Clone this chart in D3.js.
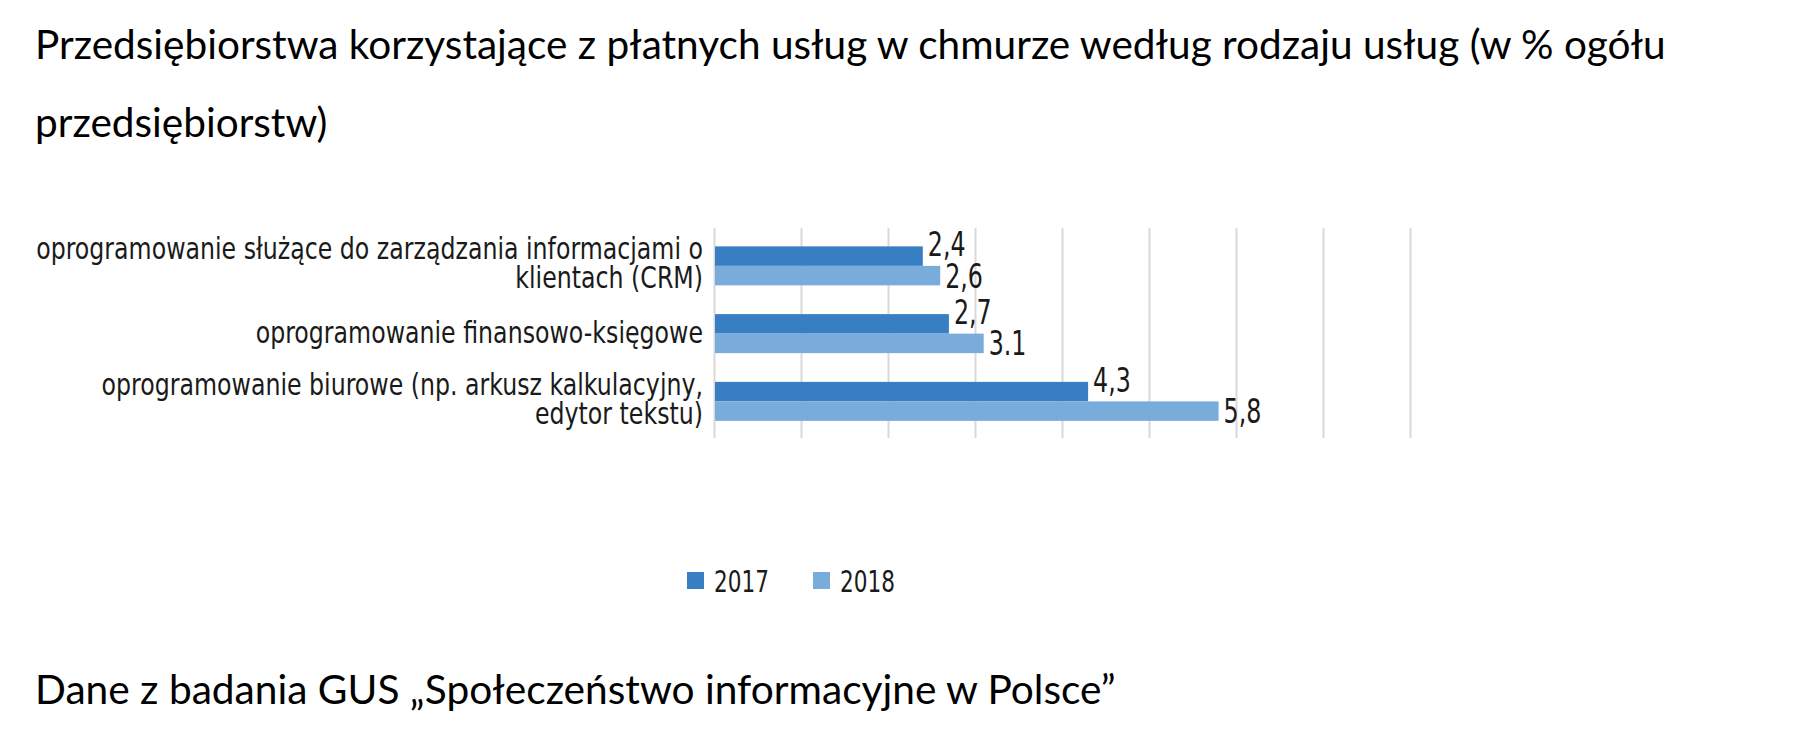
<!DOCTYPE html>
<html>
<head>
<meta charset="utf-8">
<script src="https://cdn.jsdelivr.net/npm/d3@7"></script>
<style>
body{margin:0;background:#fff;}
</style>
</head>
<body>
<div id="chart"></div>
<script>
// data
var titleLines = ["Przedsiębiorstwa korzystające z płatnych usług w chmurze według rodzaju usług (w % ogółu", "przedsiębiorstw)"];
var footnote = "Dane z badania GUS „Społeczeństwo informacyjne w Polsce”";
var categories = [
  ["oprogramowanie służące do zarządzania informacjami o", "klientach (CRM)"],
  ["oprogramowanie finansowo-księgowe"],
  ["oprogramowanie biurowe (np. arkusz kalkulacyjny,", "edytor tekstu)"]
];
var seriesNames = ["2017", "2018"];
var values2017 = [2.4, 2.7, 4.3];
var values2018 = [2.6, 3.1, 5.8];
var labels2017 = ["2,4", "2,7", "4,3"];
var labels2018 = ["2,6", "3.1", "5,8"];
var xTicks = [0, 1, 2, 3, 4, 5, 6, 7, 8];
var colors = ["#377ec3", "#7aacdb"];

var W = 1800, H = 740;
var narrow = "'Liberation Sans Narrow', 'DejaVu Sans Condensed', 'Arial Narrow', sans-serif";
var titleFont = "Lato, Carlito, Calibri, sans-serif";
var squeeze = 0.8; // the original uses a condensed face, narrower than what we have

var svg = d3.select("#chart").append("svg")
    .attr("width", W)
    .attr("height", H)
    .style("display", "block");

svg.append("rect").attr("width", W).attr("height", H).attr("fill", "#fff");

// shrink/grow a text element's font so it spans the width seen in the picture
function fit(t, target) {
  var w = t.node().getComputedTextLength();
  var fs = parseFloat(t.attr("font-size"));
  t.attr("font-size", fs * target / w);
  return fs * target / w;
}

// title
var t1 = svg.append("text")
    .attr("x", 35).attr("y", 59)
    .attr("font-family", titleFont).attr("font-size", 34)
    .attr("fill", "#000")
    .text(titleLines[0]);
var titleSize = fit(t1, 1631);
svg.append("text")
    .attr("x", 35).attr("y", 137)
    .attr("font-family", titleFont).attr("font-size", titleSize)
    .attr("fill", "#000")
    .text(titleLines[1]);

// footer
var ft = svg.append("text")
    .attr("x", 35).attr("y", 704)
    .attr("font-family", titleFont).attr("font-size", 34)
    .attr("fill", "#000")
    .text(footnote);
fit(ft, 1081);

// scales
var keys = categories.map(function(d) { return d.join(" "); });
var x = d3.scaleLinear().domain([0, 8]).range([714, 1410]);
var y = d3.scaleBand().domain(keys).range([232, 435.25]);
var ySub = d3.scaleBand().domain(seriesNames).range([-19.5, 19.5]);

// grid
var grid = svg.append("g")
    .attr("transform", "translate(0,228)")
    .call(d3.axisTop(x).tickValues(xTicks).tickSize(-210).tickFormat(""));
grid.select(".domain").remove();
grid.selectAll(".tick line").attr("stroke", "#d9d9d9").attr("stroke-width", 2);

// bars
var rows = categories.map(function(c, i) {
  return {key: keys[i], lines: c, vals: [values2017[i], values2018[i]], labs: [labels2017[i], labels2018[i]]};
});

var g = svg.selectAll(".grp")
    .data(rows)
  .enter().append("g")
    .attr("class", "grp")
    .attr("transform", function(d) { return "translate(0," + (y(d.key) + y.bandwidth() / 2) + ")"; });

g.selectAll("rect")
    .data(function(d) { return d.vals.map(function(v, j) { return {s: seriesNames[j], v: v, j: j}; }); })
  .enter().append("rect")
    .attr("x", x(0) + 1)
    .attr("y", function(d) { return ySub(d.s); })
    .attr("width", function(d) { return x(d.v) - x(0) - 1; })
    .attr("height", ySub.bandwidth())
    .attr("fill", function(d) { return colors[d.j]; });

// value labels (2018 ones sit a little lower, as in the original)
var labOffset = [0, 12];
g.selectAll(".val")
    .data(function(d) { return d.vals.map(function(v, j) { return {s: seriesNames[j], v: v, j: j, t: d.labs[j]}; }); })
  .enter().append("text")
    .attr("class", "val")
    .attr("transform", function(d) {
      return "translate(" + (x(d.v) + 5) + "," + (ySub(d.s) + ySub.bandwidth() / 2 + labOffset[d.j]) + ") scale(" + squeeze + ",1)";
    })
    .attr("font-family", narrow).attr("font-size", 33)
    .attr("fill", "#1a1a1a")
    .text(function(d) { return d.t; });

// category labels: tall glyphs, squeezed sideways to the original width
var catSize = 31;
var probe = svg.append("text").attr("font-family", narrow).attr("font-size", catSize).text(categories[0][0]);
var catScale = 667 / probe.node().getComputedTextLength();
probe.remove();

var lineGap = 29;
g.append("text")
    .attr("text-anchor", "end")
    .attr("transform", "translate(703,0) scale(" + catScale + ",1)")
    .attr("font-family", narrow).attr("font-size", catSize)
    .attr("fill", "#1a1a1a")
    .each(function(d) {
      var n = d.lines.length;
      var t = d3.select(this);
      d.lines.forEach(function(l, k) {
        t.append("tspan")
          .attr("x", 0)
          .attr("y", (k - (n - 1) / 2) * lineGap + (n > 1 ? 8 : 9))
          .text(l);
      });
    });

// legend
var leg = svg.selectAll(".leg")
    .data(seriesNames)
  .enter().append("g")
    .attr("class", "leg")
    .attr("transform", function(d, i) { return "translate(" + (687 + i * 126) + ",572)"; });
leg.append("rect").attr("width", 17).attr("height", 17).attr("fill", function(d, i) { return colors[i]; });
leg.append("text")
    .attr("transform", "translate(27,20) scale(0.8,1)")
    .attr("font-family", narrow).attr("font-size", 30)
    .attr("fill", "#1a1a1a")
    .text(function(d) { return d; });
</script>
</body>
</html>
